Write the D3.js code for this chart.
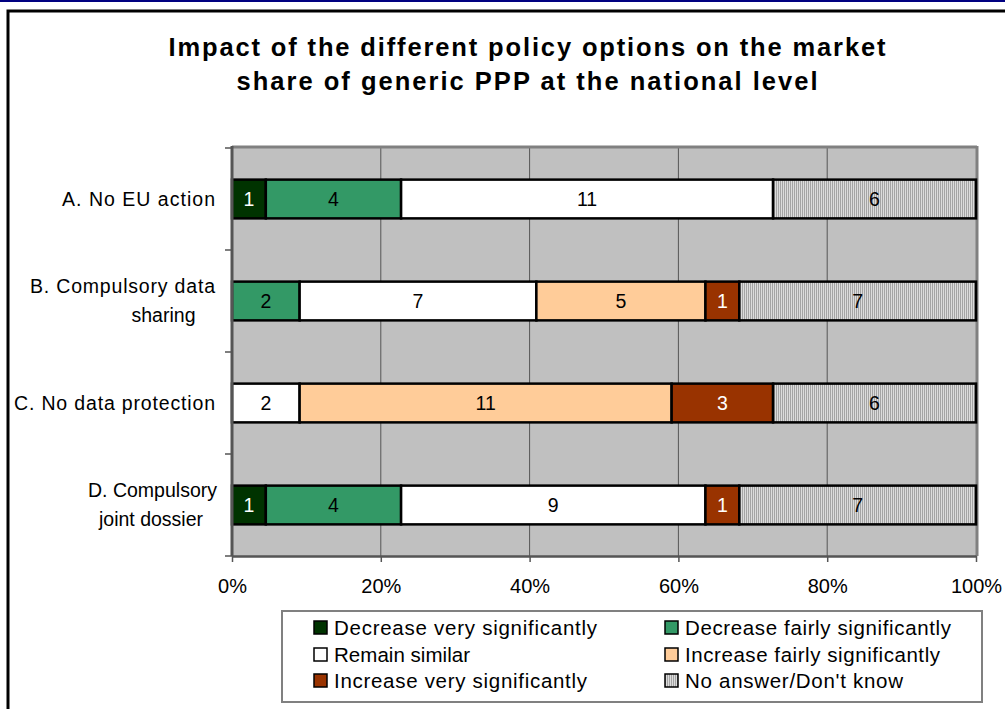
<!DOCTYPE html>
<html><head><meta charset="utf-8">
<script src="https://cdn.jsdelivr.net/npm/d3@7"></script>
<style>body{margin:0;background:#fff;}svg{display:block;}</style>
</head><body>
<svg id="c" width="1005" height="709"></svg>
<script>
const categories = ["A. No EU action", "B. Compulsory data sharing", "C. No data protection", "D. Compulsory joint dossier"];
const seriesNames = ["Decrease very significantly", "Decrease fairly significantly", "Remain similar", "Increase fairly significantly", "Increase very significantly", "No answer/Don't know"];
const decreaseVery   = [1, 0, 0, 1];
const decreaseFairly = [4, 2, 0, 4];
const remainSimilar  = [11, 7, 2, 9];
const increaseFairly = [0, 5, 11, 0];
const increaseVery   = [0, 1, 3, 1];
const noAnswer       = [6, 7, 6, 7];
const xTicks = [0, 0.2, 0.4, 0.6, 0.8, 1];
const titleLines = ["Impact of the different policy options on the market", "share of generic PPP at the national level"];

const series = [decreaseVery, decreaseFairly, remainSimilar, increaseFairly, increaseVery, noAnswer];
const fills = ["#003300", "#339966", "#ffffff", "#ffcc99", "#993300", "url(#hatch)"];
const textColors = ["#fff", "#000", "#000", "#000", "#fff", "#000"];

const svg = d3.select("#c");
const font = "'Liberation Sans', Arial, sans-serif";
const defs = svg.append("defs");
const pat = defs.append("pattern").attr("id","hatch").attr("width",2).attr("height",4).attr("patternUnits","userSpaceOnUse");
pat.append("rect").attr("width",2).attr("height",4).attr("fill","#dcdcdc");
pat.append("rect").attr("width",1).attr("height",4).attr("fill","#a4a4a4");

// top navy line and outer frame
svg.append("rect").attr("x",0).attr("y",0).attr("width",1005).attr("height",2).attr("fill","#000080");
svg.append("rect").attr("x",8).attr("y",11).attr("width",1100).attr("height",800).attr("fill","none").attr("stroke","#000").attr("stroke-width",3);

// title
const titleW = [717, 581];
titleLines.forEach((t,i)=>{
  svg.append("text").attr("x",527).attr("y",56+i*34).attr("text-anchor","middle")
    .attr("font-family",font).attr("font-size",25.5).attr("font-weight","bold")
    .attr("textLength",titleW[i]).attr("lengthAdjust","spacing").text(t);
});

const m = {l:232, r:976, t:148, b:556};
const x = d3.scaleLinear().domain([0,1]).range([m.l, m.r]);
const y = d3.scaleBand().domain(categories).range([m.t, m.b]).paddingInner(0.62).paddingOuter(0.31);
const yb = d3.scaleBand().domain(categories).range([m.t, m.b]);

// plot background
svg.append("rect").attr("x",m.l).attr("y",m.t).attr("width",m.r-m.l).attr("height",m.b-m.t).attr("fill","#c0c0c0");
// gridlines
svg.append("g").selectAll("line").data(xTicks.slice(1,-1)).join("line")
  .attr("x1",d=>x(d)).attr("x2",d=>x(d)).attr("y1",m.t).attr("y2",m.b)
  .attr("stroke","#555").attr("stroke-width",1);
// plot border top/right
svg.append("line").attr("x1",m.l).attr("x2",m.r+1).attr("y1",m.t-1).attr("y2",m.t-1).attr("stroke","#808080").attr("stroke-width",3);
svg.append("line").attr("x1",m.r+1).attr("x2",m.r+1).attr("y1",m.t-2).attr("y2",m.b).attr("stroke","#808080").attr("stroke-width",3);

// bars
const totals = categories.map((c,i)=>d3.sum(series, s=>s[i]));
categories.forEach((c,i)=>{
  let cum = 0;
  series.forEach((s,k)=>{
    const v = s[i];
    if(!v) return;
    const x0 = x(cum/totals[i]), x1 = x((cum+v)/totals[i]);
    cum += v;
    svg.append("rect").attr("x",x0).attr("y",y(c)).attr("width",x1-x0).attr("height",y.bandwidth())
      .attr("fill",fills[k]).attr("stroke","#000").attr("stroke-width",2.5);
    svg.append("text").attr("x",(x0+x1)/2).attr("y",y(c)+y.bandwidth()/2+7).attr("text-anchor","middle")
      .attr("font-family",font).attr("font-size",19.5).attr("fill",textColors[k]).text(v);
  });
});

// axes
const xAxis = d3.axisBottom(x).tickValues(xTicks).tickFormat(d3.format(".0%")).tickSize(6).tickSizeOuter(0).tickPadding(17);
const gx = svg.append("g").attr("transform",`translate(0,${m.b})`).call(xAxis);
gx.select(".domain").attr("stroke","#555").attr("stroke-width",2.5);
gx.selectAll(".tick line").attr("stroke","#555").attr("stroke-width",1.5);
gx.selectAll(".tick text").attr("font-family",font).attr("font-size",20).attr("fill","#000");

// y axis line and ticks at band boundaries
svg.append("line").attr("x1",m.l).attr("x2",m.l).attr("y1",m.t-2).attr("y2",m.b).attr("stroke","#555").attr("stroke-width",3);
const bounds = categories.map(c=>yb(c)).concat([m.b]);
svg.append("g").selectAll("line").data(bounds).join("line")
  .attr("x1",m.l-7).attr("x2",m.l).attr("y1",d=>d).attr("y2",d=>d).attr("stroke","#555").attr("stroke-width",1.5);

// category labels
const labelLines = [
  [{t:"A. No EU action", x:215, a:"end", w:153}],
  [{t:"B. Compulsory data", x:215, a:"end", w:185}, {t:"sharing", x:163.5, a:"middle", w:null}],
  [{t:"C. No data protection", x:215, a:"end", w:201}],
  [{t:"D. Compulsory", x:152.5, a:"middle", w:null}, {t:"joint dossier", x:151, a:"middle", w:null}]
];
categories.forEach((c,i)=>{
  const cy = y(c)+y.bandwidth()/2;
  const lines = labelLines[i];
  lines.forEach((L,j)=>{
    const off = (j-(lines.length-1)/2)*29.5;
    const t = svg.append("text").attr("x",L.x).attr("y",cy+off+6.5).attr("text-anchor",L.a)
      .attr("font-family",font).attr("font-size",19.5).attr("fill","#000").text(L.t);
    if (L.w) t.attr("textLength",L.w).attr("lengthAdjust","spacing");
  });
});

// legend
svg.append("rect").attr("x",282).attr("y",611).attr("width",700).attr("height",91).attr("fill","#fff").attr("stroke","#808080").attr("stroke-width",2);
const legX = [314, 665], legY = [627, 654, 680];
const legW = [263, 266, 136, 255, 253, 218];
seriesNames.forEach((n,k)=>{
  const col = k%2, row = Math.floor(k/2);
  const g = svg.append("g").attr("transform",`translate(${legX[col]},${legY[row]})`);
  g.append("rect").attr("x",0).attr("y",-6).attr("width",13).attr("height",13).attr("fill",fills[k]).attr("stroke","#000").attr("stroke-width",1.5);
  g.append("text").attr("x",20).attr("y",7.5).attr("font-family",font).attr("font-size",20.5).attr("fill","#000")
    .attr("textLength",legW[k]).attr("lengthAdjust","spacing").text(n);
});
</script>
</body></html>
